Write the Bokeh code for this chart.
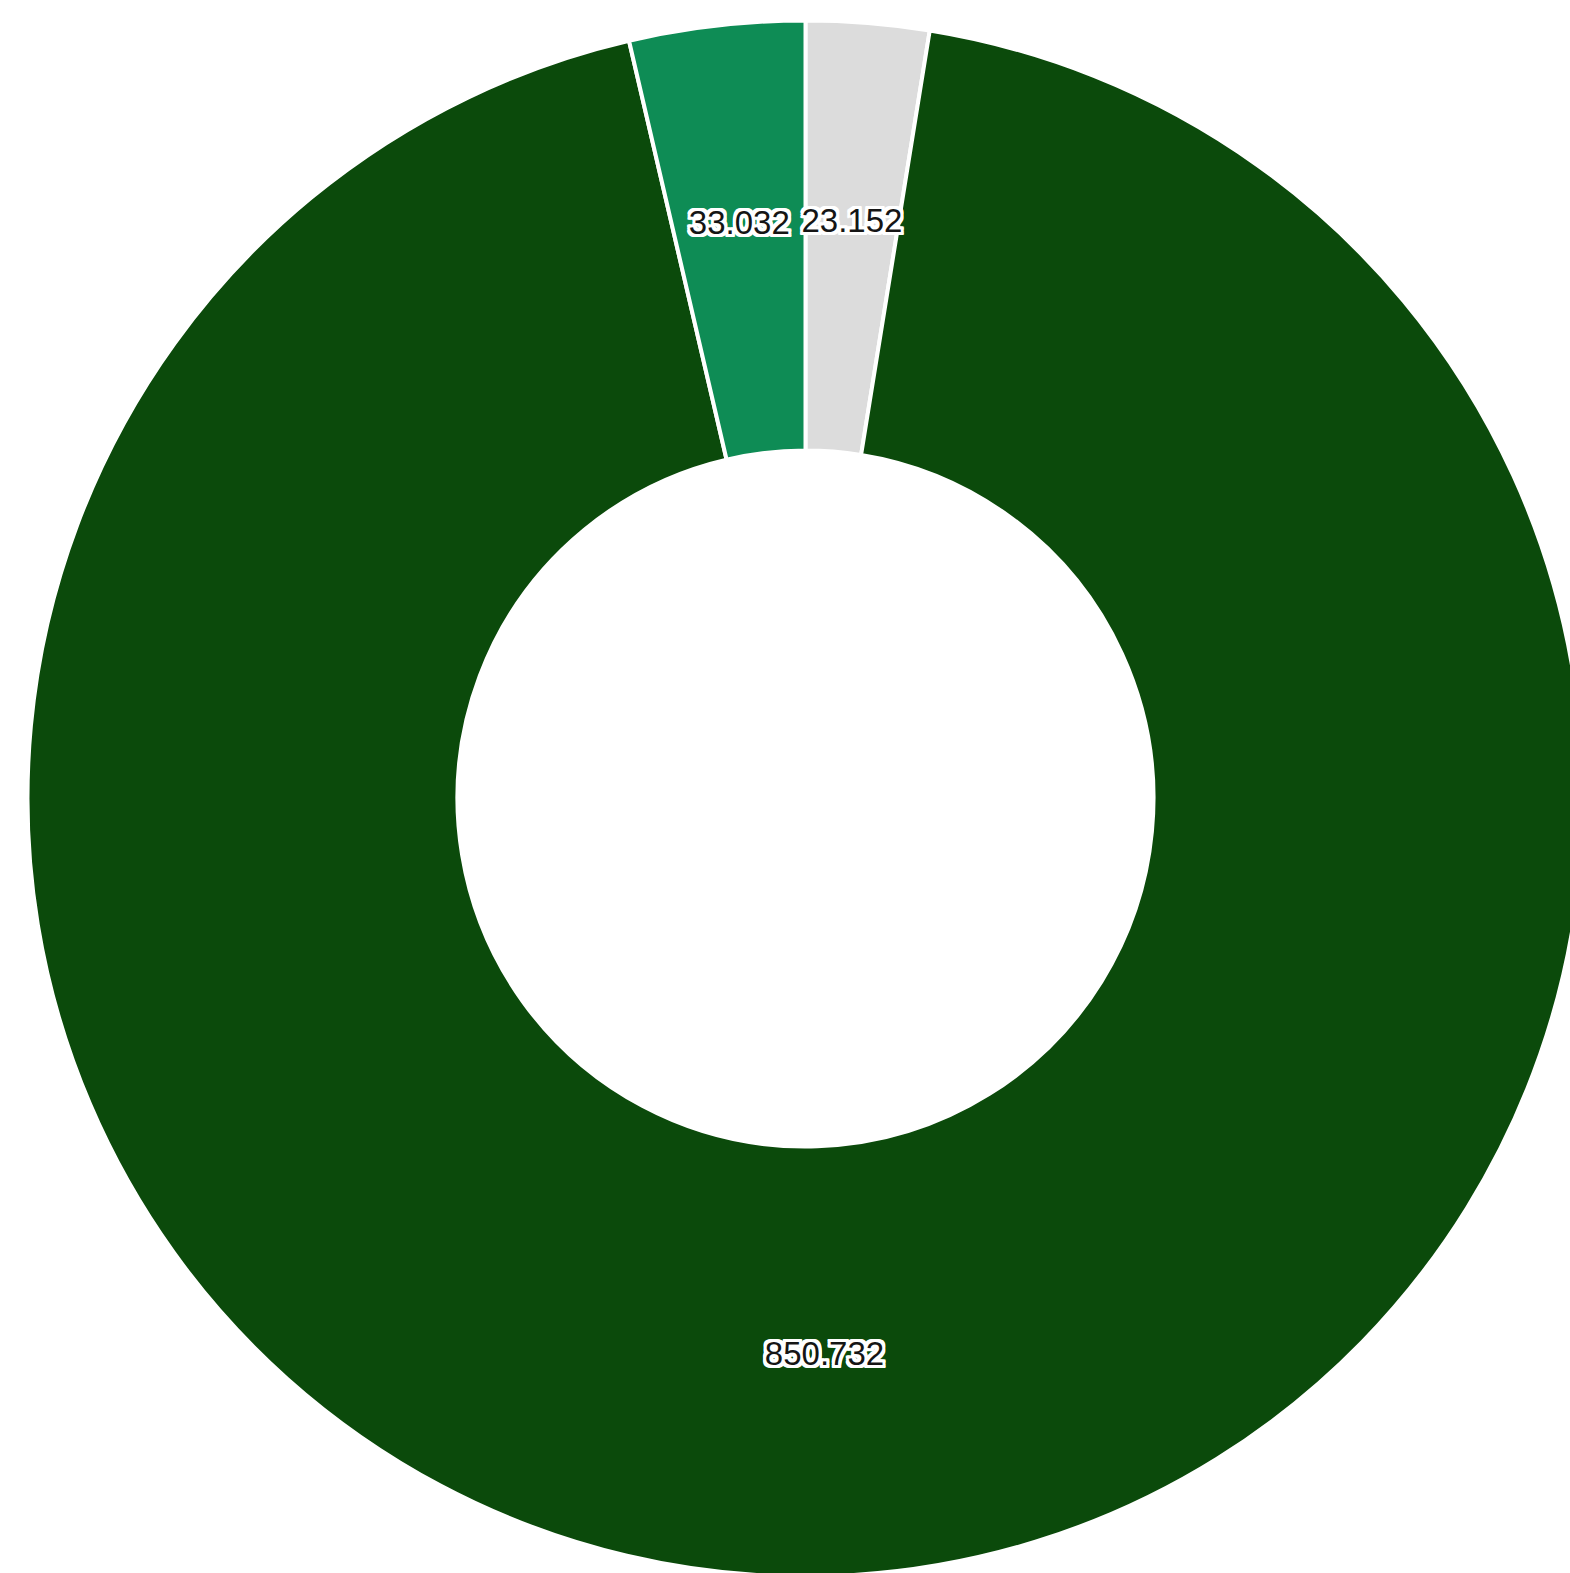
import math
from bokeh.plotting import figure
from bokeh.models import ColumnDataSource, Range1d
from bokeh.core.properties import value
from bokeh.embed import file_html
from bokeh.resources import INLINE

# data (clockwise from 12 o'clock)
categories = ["C", "A", "B"]
values = [23.152, 850.732, 33.032]
labels = ["23.152", "850.732", "33.032"]
colors = ["#dcdcdc", "#0b4a0b", "#0e8c55"]

total = sum(values)
starts, ends, lx, ly = [], [], [], []
cum = 0.0
R_IN, R_OUT = 348, 778
for v in values:
    a0 = math.pi / 2 - cum / total * 2 * math.pi
    cum += v
    a1 = math.pi / 2 - cum / total * 2 * math.pi
    starts.append(a0)
    ends.append(a1)
    mid = (a0 + a1) / 2
    r = 580 if v / total < 0.5 else 555
    lx.append(r * math.cos(mid))
    ly.append(r * math.sin(mid))

src = ColumnDataSource(dict(cat=categories, val=values, start=starts, end=ends,
                            color=colors, x=lx, y=ly, label=labels))

W, H = 1570, 1573
cx, cy = 805, 798
p = figure(width=W, height=H, output_backend="svg", toolbar_location=None,
           x_range=Range1d(-cx, W - cx), y_range=Range1d(-(H - cy), cy),
           min_border=0)
p.axis.visible = False
p.grid.visible = False
p.outline_line_color = None
p.background_fill_color = "white"

p.annular_wedge(x=0, y=0, inner_radius=R_IN, outer_radius=R_OUT,
                start_angle="start", end_angle="end", direction="clock",
                fill_color="color", line_color="white", line_width=4, source=src)

common = dict(x="x", y="y", text="label", source=src, text_align="center",
              text_baseline="middle", text_font=value("Liberation Sans"),
              text_font_size="33px")
# white halo around labels
for dx in (-3, -2, 0, 2, 3):
    for dy in (-3, -2, 0, 2, 3):
        if dx == 0 and dy == 0:
            continue
        p.text(x_offset=dx, y_offset=dy, text_color="white", **common)
p.text(text_color="#151515", **common)

open("out.html", "w").write(file_html(p, INLINE))
